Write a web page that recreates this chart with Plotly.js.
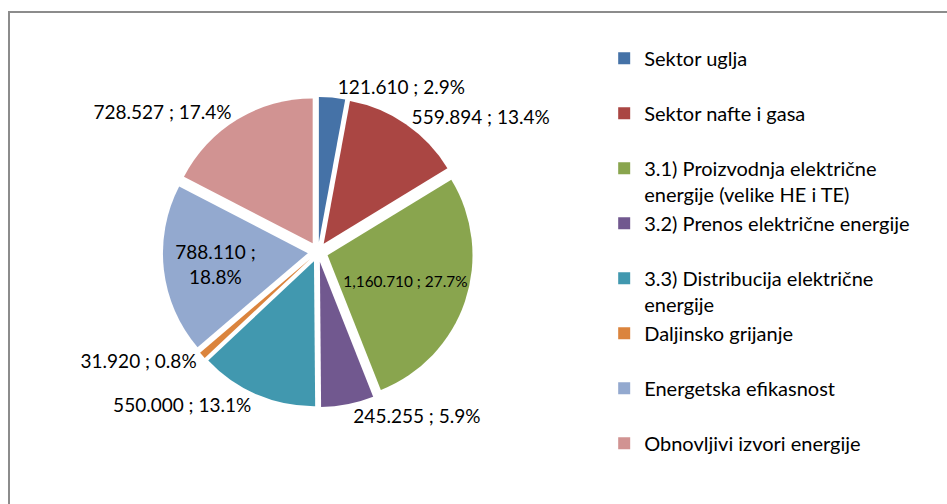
<!DOCTYPE html>
<html>
<head>
<meta charset="utf-8">
<script src="https://cdn.plot.ly/plotly-3.0.1.min.js"></script>
<style>
  html, body { margin: 0; padding: 0; background: #ffffff; overflow: hidden; }
  #chart { width: 947px; height: 504px; }
</style>
</head>
<body>
<div id="chart"></div>
<script>
// Categories (legend order = slice order, clockwise from 12 o'clock)
const categories = [
  "Sektor uglja",
  "Sektor nafte i gasa",
  "3.1) Proizvodnja električne<br>energije (velike HE i TE)",
  "3.2) Prenos električne energije",
  "3.3) Distribucija električne<br>energije",
  "Daljinsko grijanje",
  "Energetska efikasnost",
  "Obnovljivi izvori energije"
];
// Values as printed on the data labels
const values = [121.610, 559.894, 1160.710, 245.255, 550.000, 31.920, 788.110, 728.527];
const valueLabels = ["121.610", "559.894", "1,160.710", "245.255", "550.000", "31.920", "788.110", "728.527"];
const percentLabels = ["2.9%", "13.4%", "27.7%", "5.9%", "13.1%", "0.8%", "18.8%", "17.4%"];
const colors = ["#4572A7", "#AA4643", "#89A54E", "#71588F", "#4198AF", "#DB843D", "#93A9CF", "#D19392"];

// Build display helpers from the arrays above
const legendLabels = categories.map(c => c.indexOf("<br>") >= 0 ? c : c + "<br>\u00a0");
const sliceText = valueLabels.map((v, i) =>
  (i === 6) ? (v + " ;<br>" + percentLabels[i]) : (v + " ; " + percentLabels[i]));
const textPositions = values.map((v, i) => (i === 2 || i === 6) ? "inside" : "outside");

const FONT = "Lato, 'Open Sans', 'DejaVu Sans', sans-serif";

const trace = {
  type: "pie",
  labels: legendLabels,
  values: values,
  text: sliceText,
  textinfo: "text",
  texttemplate: "%{text}",
  textposition: textPositions,
  insidetextorientation: "horizontal",
  hoverinfo: "none",
  sort: false,
  direction: "clockwise",
  rotation: 0,
  pull: 0.07,
  marker: { colors: colors, line: { width: 0 } },
  textfont: { family: FONT, size: 19, color: "#000000" },
  insidetextfont: { family: FONT, size: 19, color: "#000000" },
  outsidetextfont: { family: FONT, size: 19, color: "#000000" },
  domain: { x: [0.172, 0.4995], y: [0.192, 0.808] }
};

const layout = {
  width: 947,
  height: 504,
  margin: { l: 0, r: 0, t: 0, b: 0 },
  paper_bgcolor: "#ffffff",
  plot_bgcolor: "#ffffff",
  font: { family: FONT, size: 19, color: "#000000" },
  showlegend: true,
  legend: {
    x: 0.638, y: 0.923, xanchor: "left", yanchor: "top",
    font: { family: FONT, size: 20, color: "#000000" },
    valign: "top",
    bgcolor: "rgba(0,0,0,0)",
    borderwidth: 0,
    traceorder: "normal"
  },
  shapes: [{
    type: "rect", xref: "paper", yref: "paper",
    x0: 0.0095, x1: 1.05, y0: -0.05, y1: 0.976,
    line: { color: "#8c8c8c", width: 2 }, fillcolor: "rgba(0,0,0,0)"
  }]
};

Plotly.newPlot("chart", [trace], layout, { staticPlot: true, displayModeBar: false });
</script>
</body>
</html>
